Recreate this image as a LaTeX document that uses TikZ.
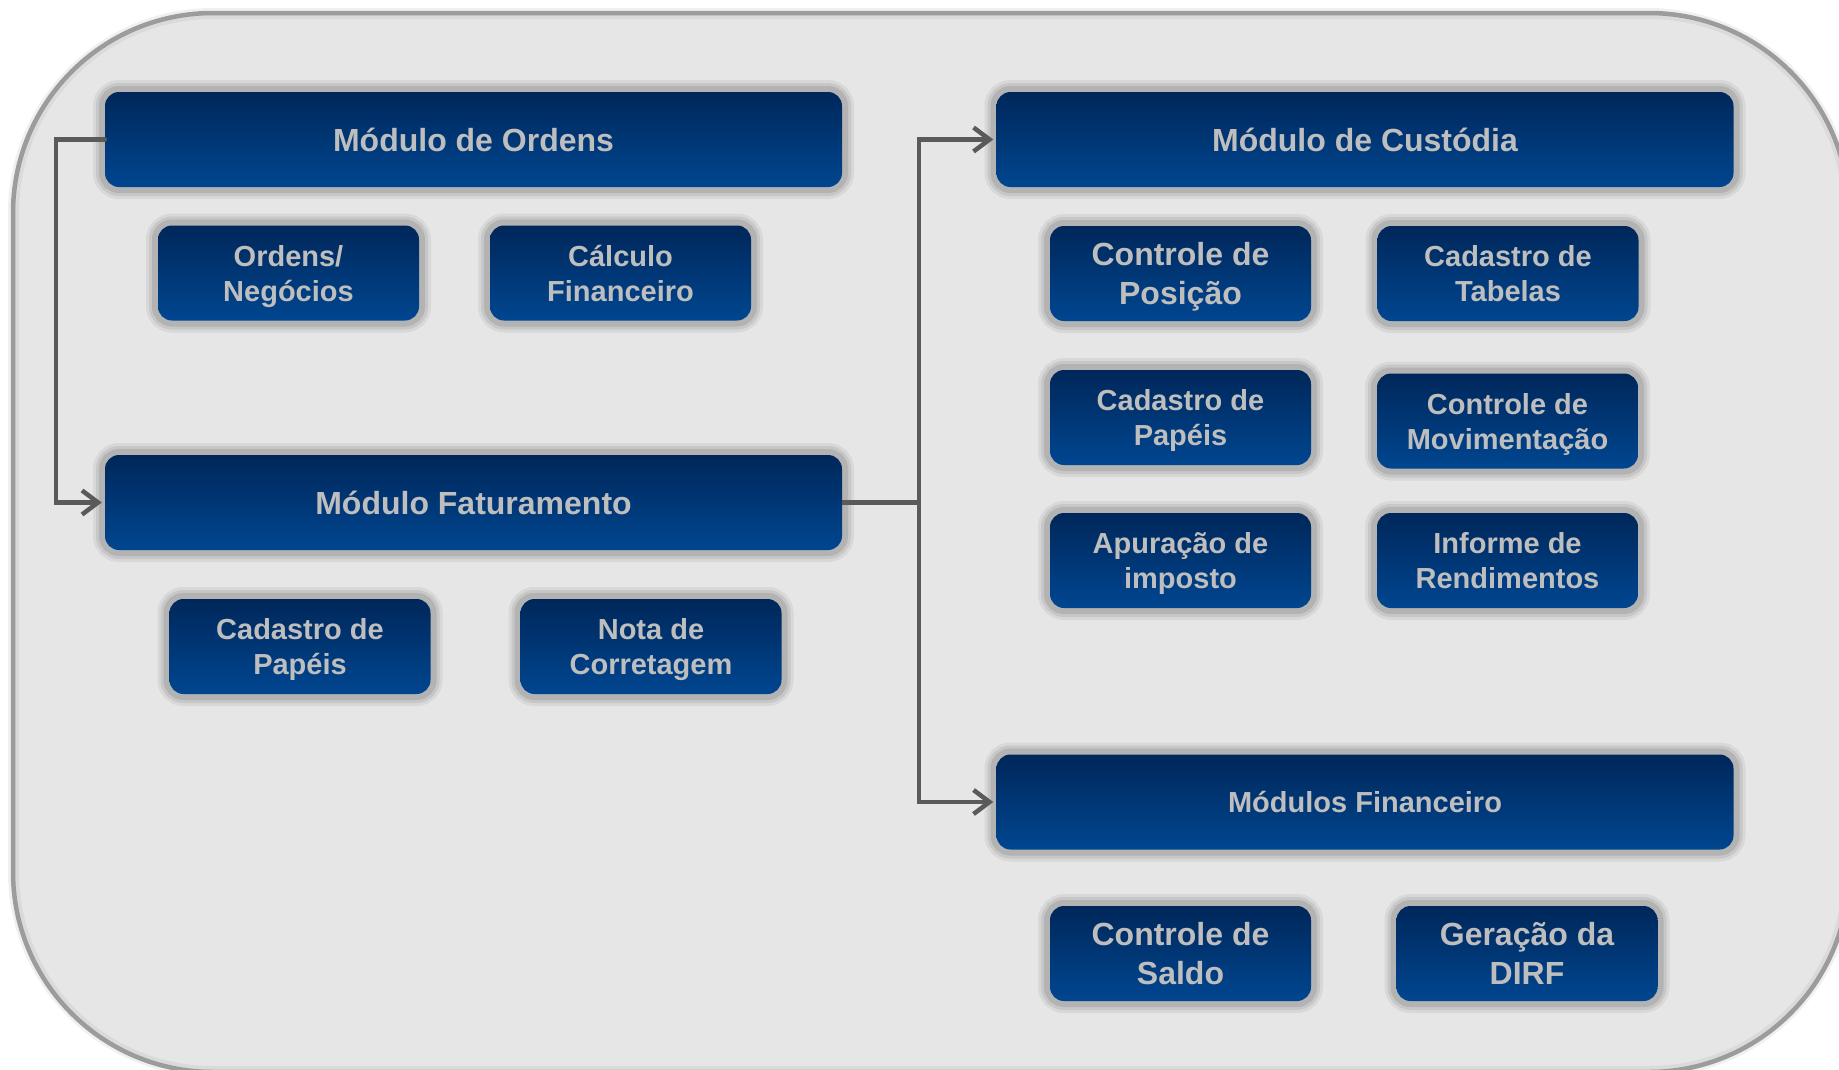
\documentclass[tikz,border=0pt]{standalone}
\usepackage{fontspec}
\setmainfont{Liberation Sans}
\usetikzlibrary{arrows.meta}
\definecolor{bgfill}{HTML}{E6E6E6}
\definecolor{outerline}{HTML}{9C9C9C}
\definecolor{bluetop}{HTML}{00275A}
\definecolor{bluebot}{HTML}{004690}
\definecolor{bordgray}{HTML}{B3B3B3}
\definecolor{txtgray}{HTML}{BEBEBE}
\definecolor{linegray}{HTML}{5A5A5A}
\begin{document}
\begin{tikzpicture}[x=1pt,y=-1pt,
  blk/.style={rectangle, rounded corners=14, inner sep=0pt, align=center,
    text=txtgray, font=\bfseries\fontsize{29}{35}\selectfont,
    top color=bluetop, bottom color=bluebot, draw=none,
    preaction={draw=black, draw opacity=0.06, line width=24},
    preaction={draw=black, draw opacity=0.08, line width=18},
    preaction={draw=bordgray, line width=12}},
  wide/.style={blk, minimum width=737, minimum height=95,
    font=\bfseries\fontsize{32}{38}\selectfont},
  small/.style={blk, minimum width=261, minimum height=95, text depth=0pt},
  big/.style={font=\bfseries\fontsize{32}{39}\selectfont},
  conn/.style={draw=linegray, line width=4.5, line cap=round,
    -{Straight Barb[length=16pt, width=24pt]}, shorten >=3pt},
  plain/.style={draw=linegray, line width=4.5}]
\useasboundingbox (0,0) rectangle (1839,1069);
\fill[white] (0,0) rectangle (1839,1069);
\begin{scope}
\clip (0,0) rectangle (1839,1069);
\draw[draw=black, draw opacity=0.06, line width=10, rounded corners=200] (13,13) rectangle (1849,1072);
\draw[fill=bgfill, draw=outerline, line width=4.5, rounded corners=200] (13,13) rectangle (1849,1072);
\draw[draw=black, draw opacity=0.05, line width=4, rounded corners=196] (17,17) rectangle (1845,1068);
\end{scope}

% left column
\node[wide] (ordens) at (473.5,139.5) {Módulo de Ordens};
\node[small] (ordneg) at (288.5,273) {Ordens/\\Negócios};
\node[small] (calc) at (620.5,273) {Cálculo\\Financeiro};
\node[wide] (fat) at (473.5,502.5) {Módulo Faturamento};
\node[small] (cadpapl) at (300,646.5) {Cadastro de\\Papéis};
\node[small] (nota) at (651,646.5) {Nota de\\Corretagem};

% right column
\node[wide] (cust) at (1365,139.5) {Módulo de Custódia};
\node[small, big] (ctrlpos) at (1180.5,273.5) {Controle de\\Posição};
\node[small] (cadtab) at (1508,273.5) {Cadastro de\\Tabelas};
\node[small] (cadpapr) at (1180.5,417.5) {Cadastro de\\Papéis};
\node[small] (ctrlmov) at (1507.5,421) {Controle de\\Movimentação};
\node[small] (apur) at (1180.5,560.5) {Apuração de\\imposto};
\node[small] (inf) at (1507.5,560.5) {Informe de\\Rendimentos};
\node[wide, font=\bfseries\fontsize{29}{35}\selectfont] (fin) at (1365,802) {Módulos Financeiro};
\node[small, big] (saldo) at (1180.5,953.5) {Controle de\\Saldo};
\node[small, big] (dirf) at (1527,953.5) {Geração da\\DIRF};

% connectors
\coordinate (lft) at (56,139.5);
\coordinate (jn) at (919,502.5);
\draw[conn] (ordens.west) -- (lft) |- (fat.west);
\draw[plain] (fat.east) -- (jn);
\draw[conn] (jn) |- (cust.west);
\draw[conn] (jn) |- (fin.west);
\end{tikzpicture}
\end{document}
